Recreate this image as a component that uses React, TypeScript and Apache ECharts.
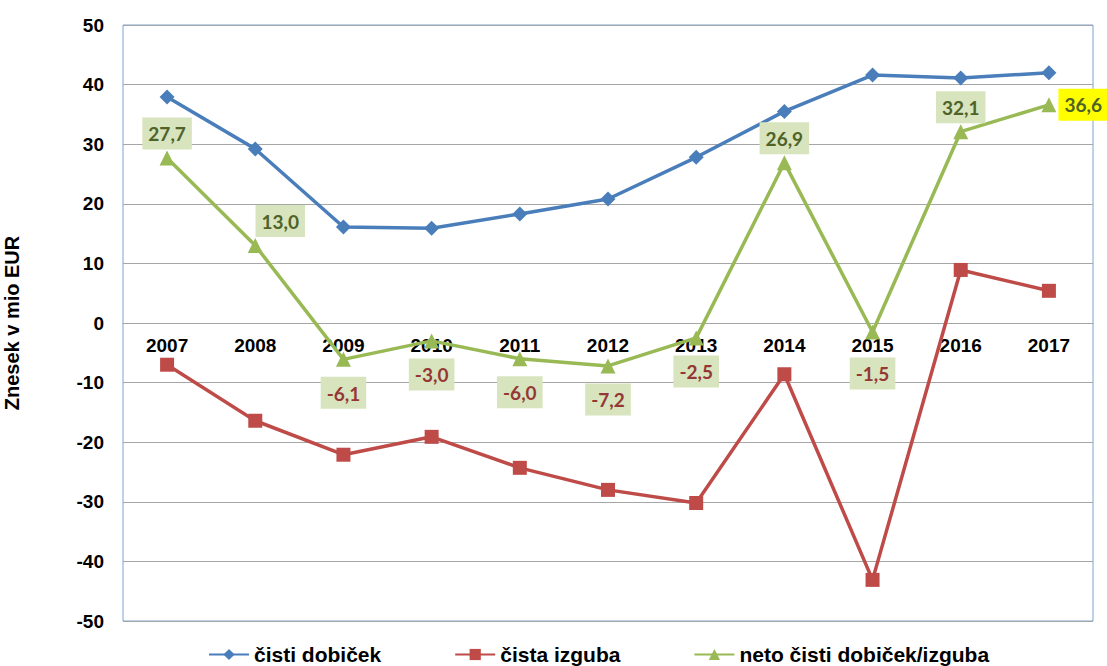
import React, { useEffect, useRef } from "react";
import * as echarts from "echarts";

const years = ["2007", "2008", "2009", "2010", "2011", "2012", "2013", "2014", "2015", "2016", "2017"];
const cistiDobicek = [37.9, 29.2, 16.1, 15.9, 18.3, 20.8, 27.8, 35.5, 41.6, 41.1, 42.0];
const cistaIzguba = [-7.0, -16.4, -22.1, -19.1, -24.3, -28.0, -30.2, -8.6, -43.1, 8.9, 5.4];
const netoRezultat = [27.7, 13.0, -6.1, -3.0, -6.0, -7.2, -2.5, 26.9, -1.5, 32.1, 36.6];
const seriesNames = ["čisti dobiček", "čista izguba", "neto čisti dobiček/izguba"];
const yTicks = { min: -50, max: 50, interval: 10 };

const BLUE = "#4A7EBB";
const RED = "#BE4B48";
const GREEN = "#98B954";

const W = 1107;
const H = 666;
const GRID = { left: 123, right: 14, top: 25, bottom: 45 };

export default function App() {
  const ref = useRef<HTMLDivElement>(null);
  useEffect(() => {
    document.body.style.margin = "0";
    const chart = echarts.init(ref.current!, null, { renderer: "svg" });
    const fmt = (v: number) => v.toFixed(1).replace(".", ",");
    const netoData = netoRezultat.map((v, i) => {
      const last = i === netoRezultat.length - 1;
      const pos = v >= 0 ? "top" : "bottom";
      const label: any = {
        show: true,
        position: last ? "right" : pos,
        distance: last ? 2 : v >= 0 ? 1 : 10,
        formatter: fmt(v),
        color: v >= 0 ? "#4F6228" : "#953735",
        backgroundColor: last ? "#FFFF00" : "#D7E4BD",
        fontFamily: "Lato",
        fontWeight: "bold",
        fontSize: 19,
        padding: [7, 6, 6, 6],
      };
      if (i === 1) label.offset = [25, 0];
      if (i === 8) label.offset = [0, 8];
      return { value: v, label };
    });
    // place category axis at y = 0 (onZero equivalent)
    const plotH = H - GRID.top - GRID.bottom;
    const zeroOffset = -plotH * (0 - yTicks.min) / (yTicks.max - yTicks.min);
    chart.setOption({
      animation: false,
      grid: {
        ...GRID,
        show: true,
        borderColor: "#7FA2D2",
        borderWidth: 1,
        containLabel: false,
        outerBoundsMode: "none",
      },
      legend: {
        left: 203,
        top: 639,
        itemWidth: 40,
        itemHeight: 14,
        itemGap: 73,
        textStyle: { fontFamily: "Arial", fontWeight: "bold", fontSize: 21, color: "#000" },
        data: seriesNames,
      },
      xAxis: {
        type: "category",
        data: years,
        boundaryGap: true,
        offset: zeroOffset,
        axisLine: { show: true, onZero: false, lineStyle: { color: "#A6A6A6", width: 1 } },
        axisTick: { show: false },
        axisLabel: {
          fontFamily: "Arial",
          fontWeight: "bold",
          fontSize: 19,
          color: "#000",
          margin: 13,
        },
        splitLine: { show: false },
      },
      yAxis: {
        type: "value",
        min: yTicks.min,
        max: yTicks.max,
        interval: yTicks.interval,
        name: "Znesek v mio EUR",
        nameLocation: "middle",
        nameGap: 101,
        nameTextStyle: { fontFamily: "Arial", fontWeight: "bold", fontSize: 20, color: "#000" },
        axisLine: { show: false },
        axisTick: { show: false },
        axisLabel: {
          fontFamily: "Arial",
          fontWeight: "bold",
          fontSize: 19,
          color: "#000",
          margin: 19,
        },
        splitLine: { show: true, lineStyle: { color: "#A6A6A6", width: 1 } },
      },
      series: [
        {
          name: seriesNames[0],
          type: "line",
          data: cistiDobicek,
          symbol: "diamond",
          symbolSize: 15,
          lineStyle: { color: BLUE, width: 3.5 },
          itemStyle: { color: BLUE },
        },
        {
          name: seriesNames[1],
          type: "line",
          data: cistaIzguba,
          symbol: "rect",
          symbolSize: 14,
          lineStyle: { color: RED, width: 3.5 },
          itemStyle: { color: RED },
        },
        {
          name: seriesNames[2],
          type: "line",
          data: netoData,
          symbol: "triangle",
          symbolSize: 15,
          lineStyle: { color: GREEN, width: 3.5 },
          itemStyle: { color: GREEN },
          z: 3,
        },
      ],
    });
    return () => chart.dispose();
  }, []);
  return <div ref={ref} style={{ width: W, height: H }} />;
}
